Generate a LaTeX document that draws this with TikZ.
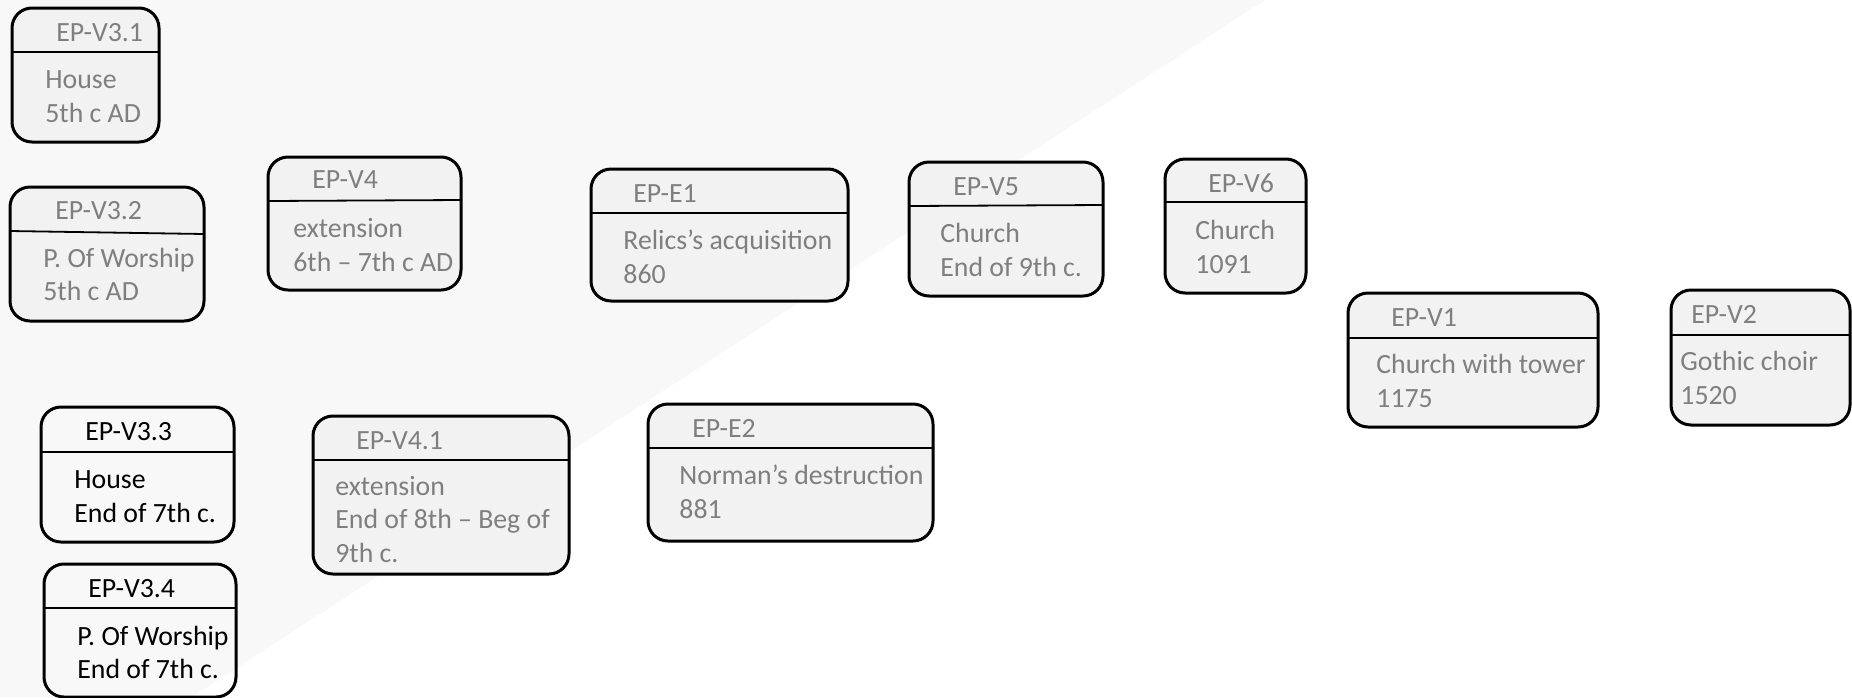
\documentclass[tikz,border=0pt]{standalone}
\usepackage{fontspec}
\setmainfont{Carlito}
\usetikzlibrary{fit}
\definecolor{boxfill}{HTML}{F2F2F2}
\definecolor{bggray}{HTML}{F8F8F8}
\definecolor{txtgray}{HTML}{7F7F7F}
\tikzset{
  epframe/.style={draw=black, line width=1.5pt, rounded corners=10pt, inner sep=0pt, fill=boxfill},
  epframeclear/.style={draw=black, line width=1.5pt, rounded corners=10pt, inner sep=0pt},
  epdiv/.style={draw=black, line width=0.9pt},
  eptxt/.style={anchor=base west, inner sep=0pt, text=txtgray, font=\fontsize{13.9}{16}\selectfont},
  eptxtblack/.style={eptxt, text=black}
}
\begin{document}
\begin{tikzpicture}[x=0.5pt,y=-0.5pt]
\useasboundingbox (0,0) rectangle (1852,697);
\fill[white] (0,0) rectangle (1852,697);
\fill[bggray] (0,0) -- (1265,0) -- (192,697) -- (0,697) -- cycle;

% EP-V3.1
\node[epframe, fit={(12,8) (159,142)}] (v31) {};
\draw[epdiv] (12,52) -- (159,52);
\node[eptxt] (v31t) at (56,41) {EP-V3.1};
\node[eptxt] (v31a) at (45,88) {House};
\node[eptxt] (v31b) at (45,122) {5th c AD};

% EP-V3.2
\node[epframe, fit={(10,187) (204,321)}] (v32) {};
\draw[epdiv] (10,231) -- (204,234);
\node[eptxt] (v32t) at (55,219) {EP-V3.2};
\node[eptxt] (v32a) at (43,267) {P. Of Worship};
\node[eptxt] (v32b) at (43,300) {5th c AD};

% EP-V4
\node[epframe, fit={(268,157) (461,290)}] (v4) {};
\draw[epdiv] (268,201) -- (461,200);
\node[eptxt] (v4t) at (312,188) {EP-V4};
\node[eptxt] (v4a) at (293,237) {extension};
\node[eptxt] (v4b) at (293,271) {6th – 7th c AD};

% EP-E1
\node[epframe, fit={(591,169) (848,301)}] (e1) {};
\draw[epdiv] (591,213) -- (848,213);
\node[eptxt] (e1t) at (633,202) {EP-E1};
\node[eptxt] (e1a) at (623,249) {Relics’s acquisition};
\node[eptxt] (e1b) at (623,283) {860};

% EP-V5
\node[epframe, fit={(909,162) (1103,296)}] (v5) {};
\draw[epdiv] (909,206) -- (1103,205);
\node[eptxt] (v5t) at (953,195) {EP-V5};
\node[eptxt] (v5a) at (940,242) {Church};
\node[eptxt] (v5b) at (940,276) {End of 9th c.};

% EP-V6
\node[epframe, fit={(1165,159) (1306,293)}] (v6) {};
\draw[epdiv] (1165,202) -- (1306,202);
\node[eptxt] (v6t) at (1208,192) {EP-V6};
\node[eptxt] (v6a) at (1195,239) {Church};
\node[eptxt] (v6b) at (1195,273) {1091};

% EP-V1
\node[epframe, fit={(1348,293) (1598,427)}] (v1) {};
\draw[epdiv] (1348,338) -- (1598,338);
\node[eptxt] (v1t) at (1391,326) {EP-V1};
\node[eptxt] (v1a) at (1376,373) {Church with tower};
\node[eptxt] (v1b) at (1376,407) {1175};

% EP-V2
\node[epframe, fit={(1671,290) (1850,425)}] (v2) {};
\draw[epdiv] (1671,335) -- (1850,335);
\node[eptxt] (v2t) at (1691,323) {EP-V2};
\node[eptxt] (v2a) at (1680,370) {Gothic choir};
\node[eptxt] (v2b) at (1680,404) {1520};

% EP-V3.3
\node[epframeclear, fit={(41,407) (234,542)}] (v33) {};
\draw[epdiv] (41,452) -- (234,452);
\node[eptxtblack] (v33t) at (85,440) {EP-V3.3};
\node[eptxtblack] (v33a) at (74,488) {House};
\node[eptxtblack] (v33b) at (74,522) {End of 7th c.};

% EP-V3.4
\node[epframeclear, fit={(44,564) (236,697)}] (v34) {};
\draw[epdiv] (44,608) -- (236,608);
\node[eptxtblack] (v34t) at (88,597) {EP-V3.4};
\node[eptxtblack] (v34a) at (77,645) {P. Of Worship};
\node[eptxtblack] (v34b) at (77,678) {End of 7th c.};

% EP-V4.1
\node[epframe, fit={(313,416) (569,574)}] (v41) {};
\draw[epdiv] (313,460) -- (569,460);
\node[eptxt] (v41t) at (356,449) {EP-V4.1};
\node[eptxt] (v41a) at (335,495) {extension};
\node[eptxt] (v41b) at (335,528) {End of 8th – Beg of};
\node[eptxt] (v41c) at (335,562) {9th c.};

% EP-E2
\node[epframe, fit={(648,404) (933,541)}] (e2) {};
\draw[epdiv] (648,448) -- (933,448);
\node[eptxt] (e2t) at (692,437) {EP-E2};
\node[eptxt] (e2a) at (679,484) {Norman’s destruction};
\node[eptxt] (e2b) at (679,518) {881};
\end{tikzpicture}
\end{document}
